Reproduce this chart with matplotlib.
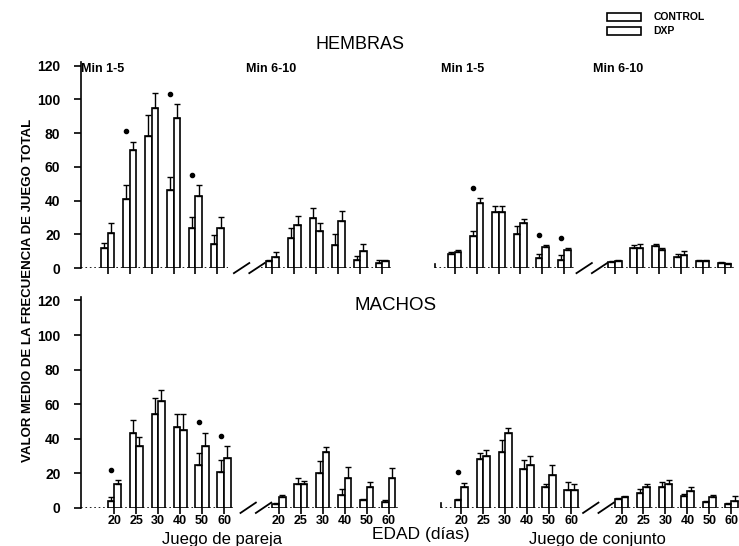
import matplotlib.pyplot as plt
import numpy as np
from matplotlib.patches import Patch

plt.rcParams['font.family'] = ['Liberation Sans', 'DejaVu Sans']

# edades (dias) de cada grupo de barras
ages = ['20', '25', '30', '40', '50', '60']

# HEMBRAS - juego de pareja, min 1-5
hem_par1_c = [12, 41, 78, 46, 24, 14.5]
hem_par1_ce = [3, 8, 13, 8, 6, 5]
hem_par1_d = [21, 70, 95, 89, 43, 24]
hem_par1_de = [6, 5, 9, 8, 6, 6]
hem_par1_star = [1, 3, 4]
# HEMBRAS - juego de pareja, min 6-10
hem_par2_c = [4, 18, 29.5, 13.5, 5, 3]
hem_par2_ce = [1, 6, 6, 6.5, 2, 2]
hem_par2_d = [6.5, 25.5, 22, 28, 10, 4]
hem_par2_de = [3, 5.5, 4.5, 6, 4.5, 1]
hem_par2_star = []
# HEMBRAS - juego de conjunto, min 1-5
hem_con1_c = [8.5, 19, 33, 20, 6, 4.5]
hem_con1_ce = [1, 3, 4, 5, 2.5, 3]
hem_con1_d = [9.5, 38.5, 33, 27, 12.5, 10.5]
hem_con1_de = [1.5, 3, 4, 2, 1, 1.5]
hem_con1_star = [1, 4, 5]
# HEMBRAS - juego de conjunto, min 6-10
hem_con2_c = [3.5, 12, 13, 6.5, 4, 3]
hem_con2_ce = [0.5, 1.5, 1.5, 2, 0.5, 0.5]
hem_con2_d = [4, 12, 10.5, 7.5, 4, 2.5]
hem_con2_de = [0.5, 2.5, 1.5, 2.5, 0.5, 0.5]
hem_con2_star = []

# MACHOS - juego de pareja, min 1-5
mac_par1_c = [4, 43.5, 54, 46.5, 25, 21]
mac_par1_ce = [2, 7.5, 9.5, 8, 6.5, 6.5]
mac_par1_d = [13.5, 36, 62, 45, 36, 29]
mac_par1_de = [2.5, 5, 6, 9.5, 7.5, 6.5]
mac_par1_star = [0, 4, 5]
# MACHOS - juego de pareja, min 6-10
mac_par2_c = [2, 14, 20, 7.5, 4.5, 3.5]
mac_par2_ce = [1, 3, 7, 3.5, 0.5, 1]
mac_par2_d = [6, 13.5, 32, 17.5, 12, 17]
mac_par2_de = [1.5, 2, 3, 6, 3, 6]
mac_par2_star = []
# MACHOS - juego de conjunto, min 1-5
mac_con1_c = [4.5, 28, 32, 22.5, 12, 10.5]
mac_con1_ce = [0.5, 3.5, 7, 5, 2, 4.5]
mac_con1_d = [12, 30, 43, 24.5, 19, 10.5]
mac_con1_de = [2.5, 3.5, 3, 5.5, 5.5, 3]
mac_con1_star = [0]
# MACHOS - juego de conjunto, min 6-10
mac_con2_c = [5, 8.5, 12, 7, 3.5, 2]
mac_con2_ce = [0.5, 2.5, 3, 1, 0.5, 0.5]
mac_con2_d = [6.5, 12, 13.5, 10, 6.5, 4]
mac_con2_de = [0.5, 1.5, 2.5, 2, 1, 3]
mac_con2_star = []

panel_titles = ['Min 1-5', 'Min 6-10', 'Min 1-5', 'Min 6-10']
starts = [1.2, 8.7, 17.0, 24.3]   # posicion del primer grupo de cada subpanel
w = 0.3


def draw_panel(ax, x0, c, ce, d, de, stars):
    x = x0 + np.arange(len(c))
    ax.bar(x - w / 2, c, w, color='white', edgecolor='black', linewidth=1.2, zorder=3)
    ax.bar(x + w / 2, d, w, color='white', edgecolor='black', linewidth=1.2, zorder=3)
    ax.errorbar(x - w / 2, c, yerr=[np.zeros(len(c)), ce], fmt='none',
                ecolor='black', elinewidth=1, capsize=2.5, zorder=4)
    ax.errorbar(x + w / 2, d, yerr=[np.zeros(len(d)), de], fmt='none',
                ecolor='black', elinewidth=1, capsize=2.5, zorder=4)
    for i in stars:
        top = max(c[i] + ce[i], d[i] + de[i])
        ax.plot(x[i] - w / 2, top + 6, 'o', color='black', markersize=3, zorder=5)
    return x


def draw_row(ax, panels, bottom_row, shift):
    st = [s + shift for s in starts]
    centers = []
    for k, p in enumerate(panels):
        centers.extend(draw_panel(ax, st[k], *p))
    # linea base punteada con cortes
    for k in range(4):
        s = st[k]
        left = s - 0.9 if k % 2 == 0 else s - 0.5
        right = s + 5.5
        if k == 0:
            left = 0
        ax.plot([left, right], [0, 0], ':', color='black', lw=1.2, zorder=2)
        if k % 2 == 1:
            for xb in [s - 1.4, s - 0.7]:
                ax.plot([xb - 0.35, xb + 0.35], [-3, 3], color='black', lw=1.3,
                        clip_on=False, zorder=2)
    ax.plot([st[2] - 0.9] * 2, [0, 2.5], color='black', lw=1.2)
    ax.set_xticks(centers)
    if bottom_row:
        ax.set_xticklabels(ages * 4, fontsize=9, fontweight='bold')
    else:
        ax.set_xticklabels([])
    ax.tick_params(axis='x', length=4, width=1.2, direction='out', pad=1.5)
    ax.set_xlim(0, 29.95)
    ax.set_ylim(0, 122)
    ax.set_yticks(range(0, 121, 20))
    ax.set_yticklabels([str(v) for v in range(0, 121, 20)], fontsize=10, fontweight='bold')
    ax.tick_params(axis='y', length=5, width=1.2, direction='out', pad=10)
    for sp in ['top', 'right', 'bottom']:
        ax.spines[sp].set_visible(False)
    ax.spines['left'].set_linewidth(1.2)
    return st


fig = plt.figure(figsize=(7.39, 5.46), dpi=100)
ax1 = fig.add_axes([0.11, 0.509, 0.89, 0.377])
ax2 = fig.add_axes([0.11, 0.070, 0.89, 0.386])

top_starts = draw_row(ax1, [
    (hem_par1_c, hem_par1_ce, hem_par1_d, hem_par1_de, hem_par1_star),
    (hem_par2_c, hem_par2_ce, hem_par2_d, hem_par2_de, hem_par2_star),
    (hem_con1_c, hem_con1_ce, hem_con1_d, hem_con1_de, hem_con1_star),
    (hem_con2_c, hem_con2_ce, hem_con2_d, hem_con2_de, hem_con2_star),
], False, 0.0)
draw_row(ax2, [
    (mac_par1_c, mac_par1_ce, mac_par1_d, mac_par1_de, mac_par1_star),
    (mac_par2_c, mac_par2_ce, mac_par2_d, mac_par2_de, mac_par2_star),
    (mac_con1_c, mac_con1_ce, mac_con1_d, mac_con1_de, mac_con1_star),
    (mac_con2_c, mac_con2_ce, mac_con2_d, mac_con2_de, mac_con2_star),
], True, 0.3)

offs = [-1.2, -1.2, -0.6, -1.0]
for k, t in enumerate(panel_titles):
    ax1.text(top_starts[k] + offs[k], 118, t, fontsize=9, fontweight='bold', va='center')

fig.text(0.487, 0.918, 'HEMBRAS', fontsize=13, ha='center', va='center')
fig.text(0.535, 0.441, 'MACHOS', fontsize=13.5, ha='center', va='center')
fig.text(0.038, 0.469, 'VALOR MEDIO DE LA FRECUENCIA DE JUEGO TOTAL', rotation=90,
         fontsize=9.5, fontweight='bold', ha='center', va='center')
fig.text(0.300, 0.012, 'Juego de pareja', fontsize=12, ha='center', va='center')
fig.text(0.570, 0.021, 'EDAD (días)', fontsize=12.5, ha='center', va='center')
fig.text(0.809, 0.012, 'Juego de conjunto', fontsize=12, ha='center', va='center')

handles = [Patch(facecolor='white', edgecolor='black', linewidth=1.2),
           Patch(facecolor='white', edgecolor='black', linewidth=1.2)]
fig.legend(handles, ['CONTROL', 'DXP'], loc='upper left', bbox_to_anchor=(0.805, 1.0),
           frameon=False, handlelength=3.2, handleheight=0.8, labelspacing=0.35,
           handletextpad=1.2, borderaxespad=0.8, prop={'size': 7.5, 'weight': 'bold'})

fig.savefig('out.png', dpi=100)
